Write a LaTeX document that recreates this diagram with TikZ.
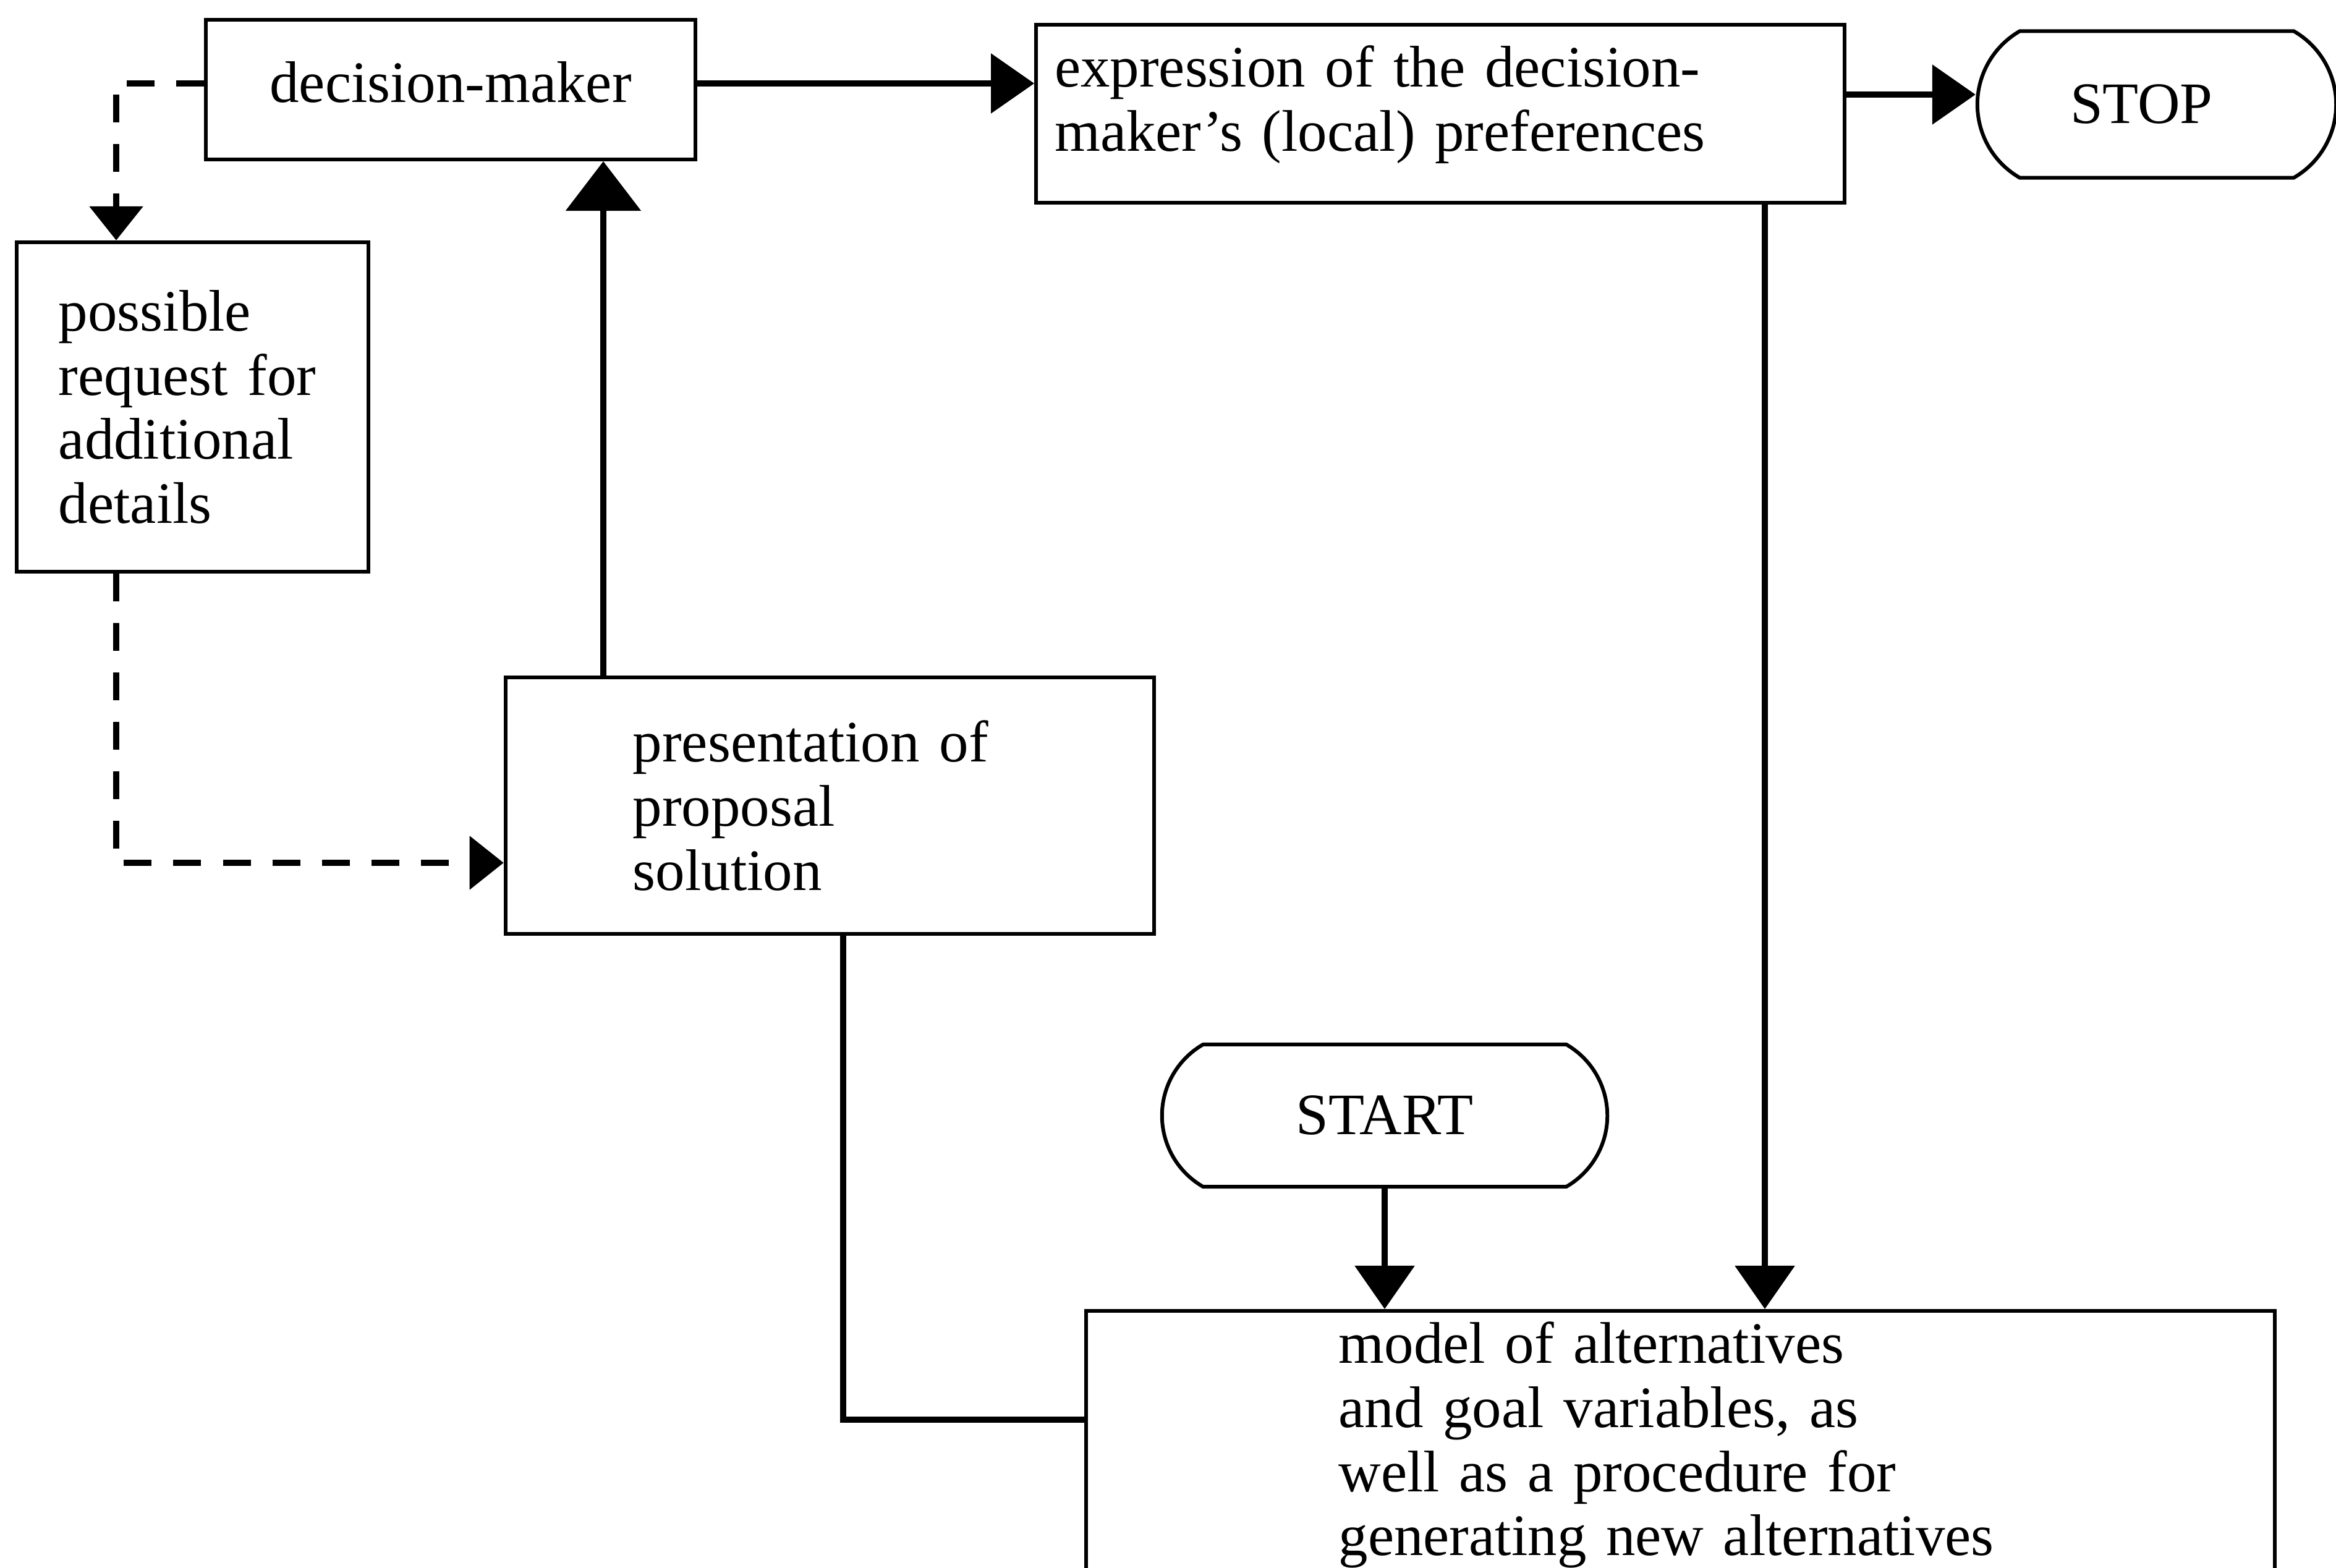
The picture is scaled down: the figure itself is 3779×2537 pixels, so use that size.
\documentclass[tikz,border=0pt]{standalone}
\usepackage{fontspec}
\setmainfont{Liberation Serif}
\usetikzlibrary{shapes.misc,arrows.meta}
\begin{document}
\begin{tikzpicture}[x=0.01cm,y=-0.01cm,
  txt/.style={font=\fontsize{27pt}{29.5pt}\selectfont},
  box/.style={txt, draw, line width=1.7pt, rectangle, inner sep=0pt},
  term/.style={txt, draw, line width=1.7pt, rounded rectangle, rounded rectangle arc length=120, inner sep=0pt},
  conn/.style={line width=2.7pt},
  arr/.style={conn, -{Triangle[length=7mm,width=9.5mm]}},
  bigarr/.style={conn, -{Triangle[length=8mm,width=12mm]}},
  dasharr/.style={conn, dash pattern=on 4.5mm off 3.5mm, -{Triangle[length=5.5mm,width=8.5mm]}}
]
\useasboundingbox (0,0) rectangle (3779,2537);
\clip (0,0) rectangle (3779,2537);

\node[box, minimum width=7.92cm, minimum height=2.26cm] (dm) at (729,145) {decision-maker\rule[-7pt]{0pt}{7pt}};
\node[box, minimum width=13.07cm, minimum height=2.88cm, text width=12.47cm, align=left] (ex) at (2330,184)
  {expression of the decision-\\maker’s (local) preferences\rule[-14pt]{0pt}{14pt}};
\node[term, minimum width=5.8cm, minimum height=2.37cm] (stop) at (3489,169) {STOP\kern14pt};
\node[box, minimum width=5.69cm, minimum height=5.33cm, text width=4.33cm, align=left] (pos) at (311.5,658.5)
  {possible\\request for\\additional\\details};
\node[box, minimum width=10.49cm, minimum height=4.15cm, text width=6.37cm, align=left] (pres) at (1342.5,1303.5)
  {presentation of\\proposal\\solution};
\node[term, minimum width=7.2cm, minimum height=2.3cm] (start) at (2240,1805) {START};
\node[box, anchor=north, minimum width=19.21cm, minimum height=4.34cm, text width=11.05cm, align=left] (model) at (2718.5,2118)
  {model of alternatives\\and goal variables, as\\well as a procedure for\\generating new alternatives};

\coordinate (lx) at (188,0);
\coordinate (ly) at (0,1396);
\coordinate (ux) at (976,0);
\coordinate (a1) at (0,135);
\coordinate (a2) at (0,153);
\coordinate (dx) at (1364,0);
\coordinate (dy) at (0,2297);
\coordinate (ex2) at (2855,0);

\draw[dasharr] (dm.west |- a1) -| (lx |- pos.north);
\draw[dasharr] (lx |- pos.south) |- (pres.west |- ly);
\draw[bigarr] (ux |- pres.north) -- (ux |- dm.south);
\draw[arr] (dm.east |- a1) -- (ex.west |- a1);
\draw[arr] (ex.east |- a2) -- (stop.west |- a2);
\draw[arr] (ex2 |- ex.south) -- (ex2 |- model.north);
\draw[conn] (dx |- pres.south) |- (model.west |- dy);
\draw[arr] (start.south) -- (start.south |- model.north);
\end{tikzpicture}
\end{document}
